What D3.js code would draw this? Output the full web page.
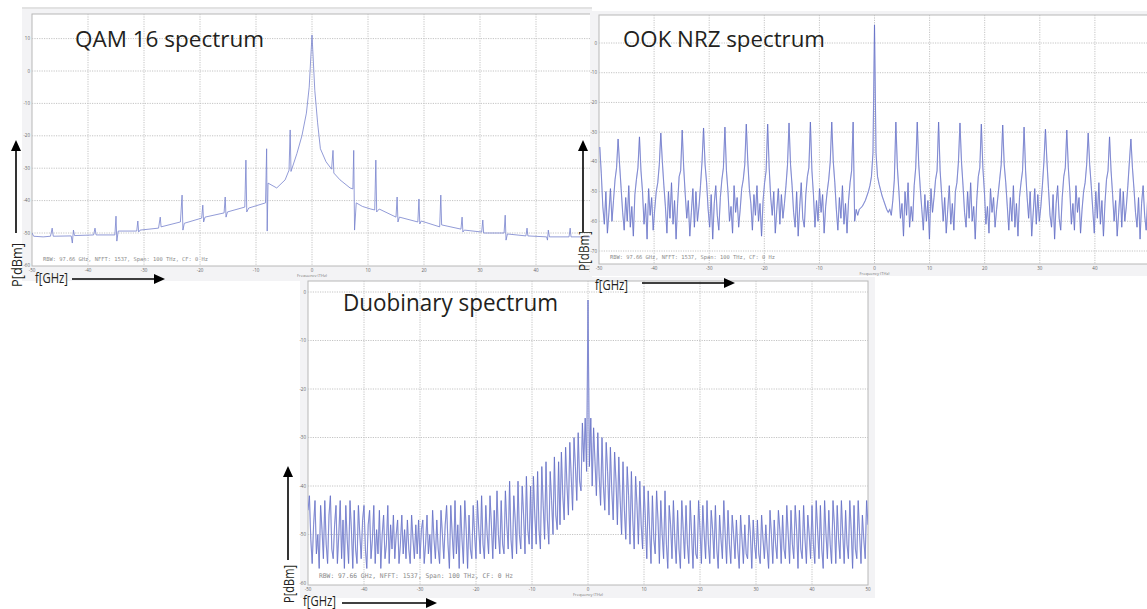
<!DOCTYPE html>
<html>
<head>
<meta charset="utf-8">
<script src="https://cdn.jsdelivr.net/npm/d3@7"></script>
<style>
  body { margin: 0; background: #fff; }
  svg { display: block; font-family: "Open Sans", sans-serif; }
</style>
</head>
<body>
<svg id="fig" width="1147" height="609"></svg>
<script>
// ---- data ----
const freqTicks = [-50, -40, -30, -20, -10, 0, 10, 20, 30, 40, 50];
const qamTicks = [10, 0, -10, -20, -30, -40, -50, -60];
const ookTicks = [0, -10, -20, -30, -40, -50, -60, -70];
const duoTicks = [0, -10, -20, -30, -40, -50, -60];
const rbwText = "RBW: 97.66 GHz, NFFT: 1537, Span: 100 THz, CF: 0 Hz";

// QAM 16: [frequency GHz, power dBm]
const qamFreq = [-50, -49.7, -48, -46.7, -46.4, -46.2, -43.0, -42.8, -42.6, -42.4, -39.0, -38.75, -38.55,
  -35.2, -35.0, -34.85, -34.6, -31.3, -31.1, -30.95, -30.7, -27.4, -27.1, -26.95, -23.5, -23.2, -23.05,
  -22.8, -19.7, -19.5, -19.35, -19.1, -15.7, -15.5, -15.35, -15.1, -12.0, -11.8, -11.65, -11.3, -8.3,
  -8.1, -8.0, -7.85, -6.3, -4.8, -4.1, -3.9, -3.75, -2.7, -1.8, -1.0, -0.5, 0, 0.5, 1.0, 1.5, 2.5, 3.5,
  3.75, 3.9, 5.0, 6.8, 7.3, 7.45, 7.6, 7.9, 9.0, 10.5, 11.2, 11.4, 11.55, 12.0, 15.0, 15.2, 15.35, 15.6,
  18.9, 19.1, 19.25, 19.5, 22.8, 23.0, 23.15, 26.6, 26.8, 26.95, 27.2, 30.3, 30.5, 30.65, 34.3, 34.5,
  34.65, 34.9, 38.2, 38.4, 38.55, 41.9, 42.05, 42.2, 42.4, 45.9, 46.1, 46.25, 50];
const qamPower = [-50.0, -51.0, -51.2, -51.0, -48.5, -51.0, -50.9, -53.1, -49.1, -50.8, -50.6, -48.5, -50.6,
  -50.6, -44.8, -52.5, -49.4, -49.4, -46.3, -49.7, -49.1, -48.5, -45.1, -48.1, -46.6, -38.3, -49.1,
  -47.0, -45.4, -41.4, -46.6, -45.1, -43.8, -38.9, -45.1, -43.5, -42.0, -27.5, -43.5, -42.3, -40.7,
  -24.0, -49.4, -34.6, -36.1, -33.6, -30.6, -18.2, -31.0, -25.5, -20.0, -13.0, -5.0, 11.1, -6.0, -16.0,
  -24.0, -28.0, -30.3, -24.5, -31.5, -33.6, -36.1, -36.4, -24.5, -49.1, -40.7, -41.8, -42.6, -42.9,
  -27.5, -43.5, -42.6, -45.1, -38.9, -46.6, -45.1, -46.6, -39.5, -47.2, -46.3, -48.1, -38.3, -47.5,
  -48.8, -45.1, -49.7, -49.1, -49.7, -46.0, -50.0, -50.0, -44.5, -52.2, -50.3, -50.9, -48.5, -50.9,
  -51.2, -52.2, -49.1, -51.2, -51.2, -48.5, -51.2, -51.2];

// OOK NRZ: power dBm sampled every 0.277 GHz, sample 180 at 0 GHz (one line per comb period)
const ookPower = [
  -35, -44, -55, -61, -50, -64, -57, -49, -60, -53, -46, -42,
  -32.3, -41, -49, -57, -63, -52, -60, -48, -62, -55, -65, -51, -46, -42,
  -31.6, -43, -50, -61, -54, -66, -49, -58, -52, -63, -56, -50, -47, -41,
  -30.3, -40, -48, -55, -64, -50, -59, -47, -61, -53, -66, -54, -45, -43,
  -29.3, -42, -51, -59, -53, -65, -57, -49, -62, -50, -60, -55, -48, -40,
  -28.6, -41, -47, -56, -62, -51, -66, -54, -48, -58, -63, -52, -46, -42,
  -28.3, -43, -50, -60, -55, -64, -48, -57, -52, -62, -56, -49, -46, -41,
  -27.3, -40, -49, -54, -63, -51, -58, -48, -60, -54, -65, -53, -47, -43,
  -27.3, -42, -52, -58, -50, -64, -56, -49, -61, -51, -59, -54, -48, -41,
  -26.9, -41, -48, -57, -62, -50, -65, -55, -47, -59, -62, -51, -45, -42,
  -26.6, -43, -51, -62, -53, -60, -49, -57, -51, -64, -55, -50, -46, -40,
  -26.6, -40, -47, -56, -63, -52, -59, -48, -61, -54, -64, -53, -47, -43,
  -26.6, -60, -56, -58, -56, -55.5, -55, -54, -53, -51.5, -50, -48, -45, -37,
  6.1, -37, -45, -47.5, -49.5, -51.5, -53, -54.5, -56, -57, -56, -58, -53, -46,
  -26.6, -42, -50, -59, -54, -65, -50, -58, -47, -62, -55, -60, -48, -42,
  -26.6, -41, -49, -56, -63, -51, -60, -53, -66, -49, -57, -52, -46, -43,
  -26.6, -43, -51, -60, -52, -64, -56, -48, -61, -54, -63, -50, -47, -40,
  -26.9, -40, -48, -57, -62, -50, -59, -47, -60, -55, -66, -53, -45, -42,
  -27.3, -42, -50, -61, -55, -64, -49, -57, -52, -62, -56, -51, -46, -41,
  -27.6, -41, -47, -55, -63, -52, -60, -48, -62, -54, -65, -52, -47, -43,
  -28.3, -43, -52, -59, -50, -65, -57, -49, -61, -51, -60, -55, -48, -40,
  -29.0, -40, -49, -58, -62, -51, -66, -54, -48, -59, -63, -52, -45, -42,
  -29.3, -42, -50, -61, -54, -63, -48, -57, -52, -64, -56, -50, -47, -41,
  -30.3, -41, -48, -56, -64, -50, -59, -47, -61, -53, -65, -54, -46, -43,
  -31.6, -43, -51, -60, -53, -65, -57, -49, -62, -50, -60, -55, -48, -40,
  -32.3, -42, -49, -57, -62, -52, -66, -54, -48, -58, -63, -52, -46, -42];

// Duobinary: power dBm sampled every 0.25 GHz from -50 GHz (one line per 5 GHz)
const duoPower = [
  -45, -42, -51, -56, -48, -43, -54, -50, -57, -44, -49, -55, -43, -52, -56, -46, -42, -53, -55, -48,
  -44, -56, -50, -43, -55, -47, -57, -44, -51, -56, -43, -49, -57, -45, -53, -56, -44, -50, -55, -47,
  -44, -53, -57, -48, -45, -55, -51, -44, -56, -49, -54, -45, -57, -50, -46, -55, -52, -44, -56, -48,
  -53, -46, -55, -50, -47, -56, -52, -46, -54, -49, -55, -47, -53, -56, -46, -51, -55, -48, -54, -47,
  -55, -49, -47, -56, -52, -46, -54, -50, -56, -45, -51, -55, -47, -53, -56, -45, -50, -55, -48, -44,
  -52, -57, -44, -50, -55, -43, -54, -48, -57, -44, -51, -56, -43, -49, -57, -46, -53, -55, -44, -50,
  -55, -43, -49, -54, -42, -52, -55, -44, -50, -54, -42, -48, -55, -45, -53, -41, -50, -54, -43, -52,
  -54, -41, -48, -53, -39, -51, -55, -42, -47, -54, -39, -50, -53, -40, -46, -54, -38, -49, -52, -40,
  -53, -38, -46, -52, -37, -49, -53, -36, -44, -51, -35, -47, -52, -37, -43, -50, -34, -46, -49, -35,
  -48, -33, -42, -47, -32, -40, -46, -31, -38, -45, -30, -36, -43, -29, -39, -41, -27, -35, -26, -37,
  -1.65,
  -36, -26, -40, -28, -35, -42, -29, -38, -44, -30, -40, -45, -31, -37, -46, -32, -41, -47, -33, -39,
  -48, -34, -43, -50, -35, -45, -51, -36, -42, -52, -37, -47, -53, -38, -44, -52, -39, -48, -53, -40,
  -47, -55, -41, -49, -56, -42, -51, -54, -41, -47, -56, -43, -50, -55, -41, -52, -57, -44, -48, -55,
  -43, -51, -56, -45, -53, -57, -43, -49, -55, -44, -52, -56, -43, -50, -57, -46, -54, -55, -43, -49,
  -56, -44, -50, -55, -43, -52, -56, -45, -49, -55, -44, -53, -57, -46, -51, -55, -43, -50, -56, -45,
  -52, -56, -46, -50, -55, -47, -53, -57, -46, -51, -56, -48, -54, -55, -46, -50, -57, -47, -52, -55,
  -47, -54, -56, -46, -51, -55, -48, -53, -57, -45, -50, -56, -47, -52, -55, -45, -49, -56, -46, -53,
  -55, -44, -50, -56, -45, -52, -55, -44, -49, -57, -45, -53, -55, -44, -51, -56, -46, -50, -55, -44,
  -52, -56, -43, -49, -55, -44, -53, -57, -43, -50, -55, -45, -52, -56, -43, -48, -56, -44, -51, -55,
  -43, -50, -56, -45, -52, -55, -43, -49, -57, -44, -53, -55, -43, -50, -56, -46, -51, -55, -43, -48];

const ookFreq = ookPower.map((_, i) => (i - 180) * 0.277);
const duoFreq = duoPower.map((_, i) => -50 + i * 0.25);

const W = 1147;
const svg = d3.select("#fig");

function drawPanel(o) {
    const [bx0, by0, bx1, by1] = o.box;
    const g = svg.append("g");

    g.append("rect")
     .attr("x", o.fig[0]).attr("y", o.fig[1])
     .attr("width", o.fig[2]).attr("height", o.fig[3])
     .attr("fill", "#f3f3f5");

    g.append("rect")
     .attr("x", bx0).attr("y", by0)
     .attr("width", bx1 - bx0).attr("height", by1 - by0)
     .attr("fill", "#fff").attr("stroke", "#b8b8b8").attr("stroke-width", 1);

    const x = d3.scaleLinear().domain([-50, 50]).range([bx0, bx1]);
    const y = d3.scaleLinear().domain([0, o.yLow]).range(o.yPix);

    // grid
    g.selectAll(null)
     .data(freqTicks.slice(1, -1))
     .join("line")
     .attr("x1", d => x(d)).attr("x2", d => x(d))
     .attr("y1", by0).attr("y2", by1)
     .attr("stroke", "#c4c4c4").attr("stroke-dasharray", "1.2,1.2");
    g.selectAll(null)
     .data(o.ticks.filter(d => y(d) > by0 + 2 && y(d) < by1 - 2))
     .join("line")
     .attr("x1", bx0).attr("x2", bx1)
     .attr("y1", d => y(d)).attr("y2", d => y(d))
     .attr("stroke", "#c4c4c4").attr("stroke-dasharray", "1.2,1.2");

    // tick labels
    g.selectAll(null)
     .data(o.ticks)
     .join("text")
     .attr("x", bx0 - 2).attr("y", d => y(d) + 1.5)
     .attr("text-anchor", "end")
     .attr("font-size", 4.5).attr("fill", "#666")
     .text(d => d);
    g.selectAll(null)
     .data(freqTicks.filter(d => x(d) < W - 6))
     .join("text")
     .attr("x", d => x(d)).attr("y", by1 + 6)
     .attr("text-anchor", "middle")
     .attr("font-size", 4.5).attr("fill", "#666")
     .text(d => d);
    g.append("text")
     .attr("x", x(0)).attr("y", by1 + 11)
     .attr("text-anchor", "middle")
     .attr("font-size", 4).attr("fill", "#777")
     .text("Frequency (THz)");

    // trace
    const clipId = "clip-" + o.name;
    g.append("clipPath").attr("id", clipId)
     .append("rect").attr("x", bx0).attr("y", by0)
     .attr("width", bx1 - bx0).attr("height", by1 - by0);

    const line = d3.line().x(d => x(d[0])).y(d => y(d[1]));
    const pts = d3.zip(o.f, o.p);
    const tg = g.append("g").attr("clip-path", `url(#${clipId})`);
    if (o.halo > 0) {
        tg.append("path")
          .attr("d", line(pts))
          .attr("fill", "none")
          .attr("stroke", "#c3c8ec").attr("stroke-width", o.halo);
    }
    tg.append("path")
      .attr("d", line(pts))
      .attr("fill", "none")
      .attr("stroke", o.color).attr("stroke-width", o.lw);

    g.append("text")
     .attr("x", o.rbw[0]).attr("y", o.rbw[1])
     .attr("font-family", "DejaVu Sans Mono, monospace")
     .attr("font-size", o.rbw[2]).attr("fill", "#8a8a8a")
     .attr("textLength", o.rbw[3]).attr("lengthAdjust", "spacingAndGlyphs")
     .text(rbwText);
}

// top rule of the first screenshot
svg.append("line")
   .attr("x1", 22).attr("x2", 592).attr("y1", 8).attr("y2", 8)
   .attr("stroke", "#d8d8d8").attr("stroke-width", 1.5);

drawPanel({name: "qam", fig: [22, 9, 570, 272], box: [32, 14, 592, 266],
    yLow: -60, yPix: [71, 265.4], ticks: qamTicks, f: qamFreq, p: qamPower,
    color: "#7681cd", lw: 0.8, halo: 0, rbw: [43, 261, 5.5, 165]});
drawPanel({name: "ook", fig: [590, 11, 560, 265], box: [599, 15, 1150, 264],
    yLow: -70, yPix: [43, 251], ticks: ookTicks, f: ookFreq, p: ookPower,
    color: "#5662bf", lw: 0.6, halo: 1.2, rbw: [610, 259, 5.5, 165]});
drawPanel({name: "duo", fig: [300, 277, 575, 321], box: [308, 281, 868, 585],
    yLow: -60, yPix: [292, 583], ticks: duoTicks, f: duoFreq, p: duoPower,
    color: "#5662bf", lw: 0.6, halo: 1.2, rbw: [319, 578, 6.5, 194]});

// ---- annotations pasted over the screenshots ----
const titles = [
    {t: "QAM 16 spectrum", x: 75, y: 47, s: 22.5, w: 189},
    {t: "OOK NRZ spectrum", x: 623, y: 47, s: 22.5, w: 202},
    {t: "Duobinary spectrum", x: 343, y: 311, s: 24, w: 215}
];
svg.selectAll(null)
   .data(titles)
   .join("text")
   .attr("x", d => d.x).attr("y", d => d.y)
   .attr("font-size", d => d.s).attr("fill", "#231f20")
   .attr("textLength", d => d.w).attr("lengthAdjust", "spacingAndGlyphs")
   .text(d => d.t);

const axisNotes = [
    {vx: 16, vTop: 140, vBot: 233, px: 22, py: 265, pw: 44, fx: 35, fy: 283, hx0: 72, hx1: 165, hy: 279},
    {vx: 583, vTop: 140, vBot: 232, px: 589, py: 251, pw: 40, fx: 595, fy: 290, hx0: 642, hx1: 735, hy: 283},
    {vx: 288, vTop: 466, vBot: 560, px: 294, py: 584, pw: 38, fx: 303, fy: 606, hx0: 342, hx1: 437, hy: 603}
];
const notes = svg.selectAll(null).data(axisNotes).join("g");
notes.append("line")
     .attr("x1", d => d.vx).attr("x2", d => d.vx)
     .attr("y1", d => d.vBot).attr("y2", d => d.vTop + 8)
     .attr("stroke", "#000").attr("stroke-width", 1.6);
notes.append("path")
     .attr("d", d => `M${d.vx},${d.vTop}L${d.vx - 5},${d.vTop + 11}L${d.vx + 5},${d.vTop + 11}Z`)
     .attr("fill", "#000");
notes.append("line")
     .attr("x1", d => d.hx0).attr("x2", d => d.hx1 - 8)
     .attr("y1", d => d.hy).attr("y2", d => d.hy)
     .attr("stroke", "#000").attr("stroke-width", 1.6);
notes.append("path")
     .attr("d", d => `M${d.hx1},${d.hy}L${d.hx1 - 11},${d.hy - 5}L${d.hx1 - 11},${d.hy + 5}Z`)
     .attr("fill", "#000");
notes.append("text")
     .attr("transform", d => `translate(${d.px},${d.py}) rotate(-90)`)
     .attr("text-anchor", "middle")
     .attr("font-size", 14).attr("fill", "#231f20")
     .attr("textLength", d => d.pw).attr("lengthAdjust", "spacingAndGlyphs")
     .text("P[dBm]");
notes.append("text")
     .attr("x", d => d.fx).attr("y", d => d.fy)
     .attr("font-size", 15).attr("fill", "#231f20")
     .attr("textLength", 33).attr("lengthAdjust", "spacingAndGlyphs")
     .text("f[GHz]");
</script>
</body>
</html>
